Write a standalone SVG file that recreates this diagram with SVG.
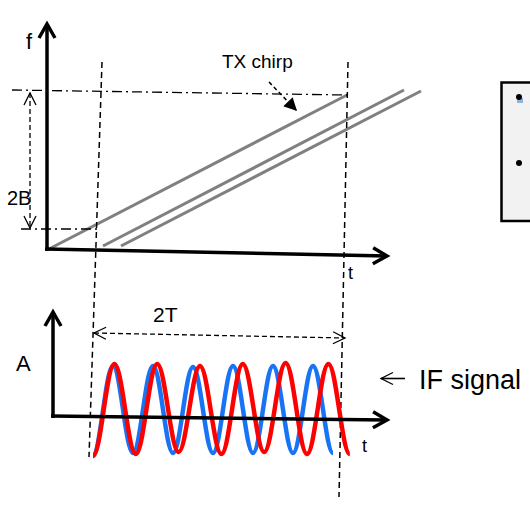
<svg xmlns="http://www.w3.org/2000/svg" width="530" height="509" viewBox="0 0 530 509">
<style>
  text { font-family: "Liberation Sans", Arial, sans-serif; fill: #000; }
  .axis { stroke: #000; stroke-width: 3.5; fill: none; }
  .guide { stroke: #000; stroke-width: 1.5; stroke-dasharray: 6 4; fill: none; }
  .dashdot { stroke: #000; stroke-width: 1.3; stroke-dasharray: 10 4 2 4; fill: none; }
  .dim { stroke: #000; stroke-width: 1.3; stroke-dasharray: 5 3; fill: none; }
  .chirp { stroke: #808080; stroke-width: 3; fill: none; }
  .wave { stroke-width: 4.5; fill: none; stroke-linecap: butt; }
</style>
<defs>
  <marker id="axArrow" markerUnits="userSpaceOnUse" viewBox="-16 -10 20 20" refX="0" refY="0" markerWidth="20" markerHeight="20" orient="auto" overflow="visible">
    <path d="M-14,-8 L0,0 L-14,8" fill="none" stroke="#000" stroke-width="3.5"/>
  </marker>
  <marker id="dimArrow" markerUnits="userSpaceOnUse" viewBox="-14 -8 16 16" refX="0" refY="0" markerWidth="16" markerHeight="16" orient="auto-start-reverse" overflow="visible">
    <path d="M-12,-6 L0,0 L-12,6" fill="none" stroke="#000" stroke-width="1.3"/>
  </marker>
  <marker id="fillArrow" markerUnits="userSpaceOnUse" viewBox="-14 -7 16 14" refX="0" refY="0" markerWidth="16" markerHeight="14" orient="auto" overflow="visible">
    <path d="M-13,-6.5 L0,0 L-13,6.5 Z" fill="#000"/>
  </marker>
</defs>

<g id="freq-plot">
  <g id="chirps">
    <line class="chirp" x1="47" y1="250" x2="347" y2="95"/>
    <line class="chirp" x1="103" y1="246" x2="404" y2="90"/>
    <line class="chirp" x1="121" y1="246" x2="421" y2="91"/>
  </g>
  <g id="freq-axes">
    <line class="axis" x1="47" y1="251" x2="47" y2="24" marker-end="url(#axArrow)"/>
    <line class="axis" x1="45" y1="249" x2="387" y2="256" marker-end="url(#axArrow)"/>
  </g>
  <text x="26" y="49" font-size="22">f</text>
  <text x="348" y="279" font-size="18">t</text>
  <text x="7" y="205" font-size="20">2B</text>
  <text x="222" y="68" font-size="19">TX chirp</text>
</g>

<g id="connectors">
  <line class="guide" x1="102" y1="62" x2="89" y2="457"/>
  <line class="guide" x1="348" y1="62" x2="339" y2="497"/>
  <line class="dashdot" x1="12" y1="90" x2="347" y2="95"/>
  <line class="dashdot" x1="21" y1="229" x2="97" y2="229"/>
  <line class="dim" x1="30" y1="93" x2="30" y2="228" marker-start="url(#dimArrow)" marker-end="url(#dimArrow)"/>
  <line class="dim" x1="94" y1="333" x2="345" y2="338" marker-start="url(#dimArrow)" marker-end="url(#dimArrow)"/>
  <line stroke="#000" stroke-width="1.5" stroke-dasharray="4 3" x1="269" y1="82" x2="297" y2="111" marker-end="url(#fillArrow)"/>
  <line stroke="#000" stroke-width="1.6" x1="405" y1="378.5" x2="381" y2="378.5" marker-end="url(#dimArrow)"/>
</g>

<g id="if-plot">
  <path class="wave" stroke="#1874f5" d="M93,455 C100.3,455 105.7,366 113,366 S125.7,453 133,453 S145.7,366 153,366 S165.7,453 173,453 S185.7,367 193,367 S205.7,453 213,453 S225.7,366 233,366 S245.7,453 253,453 S265.7,366 273,366 S285.7,453 293,453 S305.7,366 313,366 S325.7,453 333,453"/>
  <path class="wave" stroke="#ff0000" d="M93,456 C100.8,456 106.6,364 114.4,364 S128,454 135.8,454 S149.4,364 157.2,364 S170.8,452 178.6,452 S192.2,366 200,366 S213.6,454 221.4,454 S235,364 242.8,364 S256.4,452 264.2,452 S277.8,363 285.6,363 S299.2,454 307,454 S320.6,364 328.4,364 S342,454 349.8,454"/>
  <g id="if-axes">
    <line class="axis" x1="53" y1="418" x2="53" y2="312" marker-end="url(#axArrow)"/>
    <line class="axis" x1="51" y1="416" x2="387" y2="420" marker-end="url(#axArrow)"/>
  </g>
  <text x="16" y="371" font-size="22">A</text>
  <text x="362" y="452" font-size="18">t</text>
  <text x="153" y="322" font-size="21">2T</text>
  <text x="419" y="389" font-size="27">IF signal</text>
</g>

<g id="side-box">
  <rect x="501.5" y="82.5" width="40" height="138.5" fill="#f2f2f2" stroke="#000" stroke-width="2.5"/>
  <rect x="517" y="98" width="6" height="5" fill="#8fb3d9"/>
  <circle cx="519" cy="97" r="3" fill="#000"/>
  <circle cx="519" cy="163" r="3" fill="#000"/>
</g>
</svg>
